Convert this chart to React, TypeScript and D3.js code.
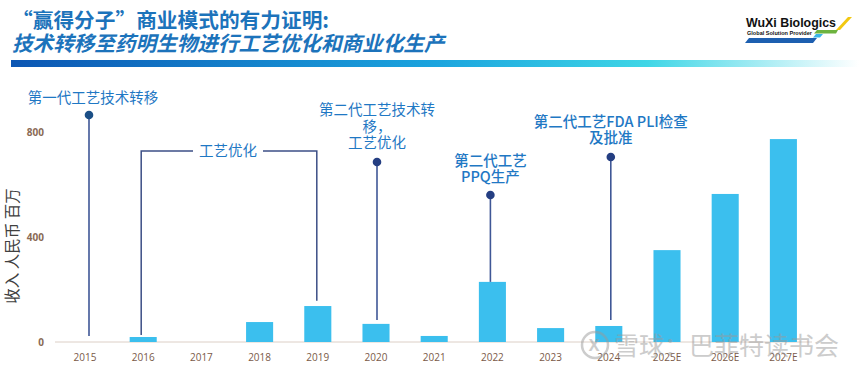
import React, { useEffect, useRef } from "react";
import * as d3 from "d3";

// revenue, RMB millions
const categories = ["2015", "2016", "2017", "2018", "2019", "2020", "2021", "2022", "2023", "2024", "2025E", "2026E", "2027E"];
const revenue = [0, 19, 0, 76, 137, 69, 23, 229, 53, 61, 350, 564, 773];
const yTicks = [0, 400, 800];

// milestone pins: category, dot value, line bottom value, label lines
const pinCategories = ["2015", "2020", "2022", "2024"];
const pinDotValues = [865, 686, 560, 705];
const pinBottomValues = [23, 84, 229, 84];
const pinLabels = [
  ["第一代工艺技术转移"],
  ["第二代工艺技术转", "移，", "工艺优化"],
  ["第二代工艺", "PPQ生产"],
  ["第二代工艺FDA PLI检查", "及批准"],
];

// bracket "工艺优化" from 2016 to 2019
const bracketCategories = ["2016", "2019"];
const bracketTopValue = 728;
const bracketBottomValues = [27, 157];
const bracketLabel = "工艺优化";

const W = 859;
const H = 371;

const App: React.FC = () => {
  const svgRef = useRef<SVGSVGElement>(null);

  useEffect(() => {
    if (!svgRef.current) return;
    const svg = d3.select(svgRef.current);
    svg.selectAll("*").remove();

    const cjk = "'Noto Sans CJK SC', 'Noto Sans', sans-serif";
    const latin = "'Open Sans', 'Noto Sans', sans-serif";
    const textBlue = "#1f78c4";

    // header
    const defs = svg.append("defs");
    const grad = defs.append("linearGradient").attr("id", "hdr").attr("x1", "0").attr("x2", "1");
    grad.append("stop").attr("offset", "0").attr("stop-color", "#0c56b3");
    grad.append("stop").attr("offset", "0.5").attr("stop-color", "#1ba4de");
    grad.append("stop").attr("offset", "0.75").attr("stop-color", "#3fd6e6");
    grad.append("stop").attr("offset", "1").attr("stop-color", "#ffffff");

    svg.append("rect").attr("x", 11).attr("y", 60).attr("width", W - 11).attr("height", 7).attr("fill", "url(#hdr)");

    svg.append("text")
      .attr("x", 12).attr("y", 28)
      .attr("font-family", cjk).attr("font-size", 20.7).attr("font-weight", 700)
      .attr("fill", "#1c73bb")
      .text("“赢得分子”商业模式的有力证明:");
    svg.append("text")
      .attr("x", 12).attr("y", 51)
      .attr("font-family", cjk).attr("font-size", 20.6).attr("font-weight", 700)
      .attr("font-style", "italic")
      .attr("fill", "#1c73bb")
      .text("技术转移至药明生物进行工艺优化和商业化生产");

    // logo
    const logo = svg.append("g");
    logo.append("text").attr("x", 746).attr("y", 27)
      .attr("font-family", "'Liberation Sans', Arial, sans-serif").attr("font-size", 12.8).attr("font-weight", 700)
      .attr("textLength", 90).attr("lengthAdjust", "spacingAndGlyphs")
      .attr("fill", "#111").text("WuXi Biologics");
    logo.append("text").attr("x", 747).attr("y", 35)
      .attr("font-family", "'Liberation Sans', Arial, sans-serif").attr("font-size", 5.5).attr("font-weight", 700)
      .attr("textLength", 65).attr("lengthAdjust", "spacingAndGlyphs")
      .attr("fill", "#111").text("Global Solution Provider");
    logo.append("polygon").attr("points", "836,30 848,17 852,17 840,30").attr("fill", "#f2c811");
    logo.append("polygon").attr("points", "814,33.5 836,33.5 838,30 817,30").attr("fill", "#6db33f");
    logo.append("polygon").attr("points", "813,37.5 820,37.5 823,34 816,34").attr("fill", "#3bb6e8");
    logo.append("polygon").attr("points", "745,43 813,43 817,38 749,38").attr("fill", "#1d5fb0");

    // scales
    const x = d3.scaleBand<string>()
      .domain(categories)
      .range([55.9, 55.9 + 58.2 * categories.length])
      .paddingInner(0.535)
      .paddingOuter(0.2675);
    const y = d3.scaleLinear().domain([0, 800]).range([342, 132]);
    const cx = (c: string) => (x(c) as number) + x.bandwidth() / 2;

    // baseline
    svg.append("line")
      .attr("x1", 55).attr("x2", 812).attr("y1", y(0)).attr("y2", y(0))
      .attr("stroke", "#dccfc6").attr("stroke-width", 1);

    // y ticks
    svg.append("g").selectAll("text").data(yTicks).join("text")
      .attr("x", 44).attr("y", d => y(d)).attr("dy", "0.35em")
      .attr("text-anchor", "end")
      .attr("font-family", latin).attr("font-size", 10).attr("font-weight", 700)
      .attr("fill", "#8a6a55")
      .text(d => d);

    // y title
    svg.append("text")
      .attr("transform", `translate(13,${246}) rotate(-90)`)
      .attr("text-anchor", "middle")
      .attr("dy", "0.35em")
      .attr("font-family", cjk).attr("font-size", 15.5)
      .attr("fill", "#404040")
      .attr("xml:space", "preserve")
      .text("收入 人民币 百万");

    // x labels
    svg.append("g").selectAll("text").data(categories).join("text")
      .attr("x", d => cx(d)).attr("y", 357).attr("dy", "0.35em")
      .attr("text-anchor", "middle")
      .attr("font-family", latin).attr("font-size", 10)
      .attr("fill", "#7a5a48")
      .text(d => d);

    // bars
    svg.append("g").selectAll("rect").data(categories).join("rect")
      .attr("x", d => x(d) as number)
      .attr("y", (d, i) => y(revenue[i]))
      .attr("width", x.bandwidth())
      .attr("height", (d, i) => y(0) - y(revenue[i]))
      .attr("fill", "#3bbfee");

    // bracket
    const bx0 = cx(bracketCategories[0]) - 2;
    const bx1 = cx(bracketCategories[1]) - 1;
    const by = y(bracketTopValue);
    const bLabelX = 228;
    const bLineColor = "#3c4f86";
    svg.append("path")
      .attr("d", `M${bx0},${y(bracketBottomValues[0])} V${by} H${bLabelX - 35}`)
      .attr("fill", "none").attr("stroke", bLineColor).attr("stroke-width", 1.5);
    svg.append("path")
      .attr("d", `M${bLabelX + 35},${by} H${bx1} V${y(bracketBottomValues[1])}`)
      .attr("fill", "none").attr("stroke", bLineColor).attr("stroke-width", 1.5);
    svg.append("text")
      .attr("x", bLabelX).attr("y", by).attr("dy", "0.35em")
      .attr("text-anchor", "middle")
      .attr("font-family", cjk).attr("font-size", 14.5)
      .attr("fill", textBlue)
      .text(bracketLabel);

    // pins
    const pinDx = [4, 1, -2, 2];
    const pinLabelDy = [-17, -19, -18, -19];
    pinCategories.forEach((c, i) => {
      const px = cx(c) + pinDx[i];
      const dotY = y(pinDotValues[i]);
      svg.append("line")
        .attr("x1", px).attr("x2", px)
        .attr("y1", dotY).attr("y2", y(pinBottomValues[i]))
        .attr("stroke", "#3f5796").attr("stroke-width", 1.6);
      svg.append("circle")
        .attr("cx", px).attr("cy", dotY).attr("r", 4.3)
        .attr("fill", i === 0 ? "#1b4f86" : "#243e82");
      const lines = pinLabels[i];
      const lh = 16.5;
      const lastY = dotY + pinLabelDy[i];
      const bold = i >= 2;
      svg.append("g").selectAll("text").data(lines).join("text")
        .attr("x", px + (i === 0 ? 4 : 0))
        .attr("y", (d, k) => lastY - (lines.length - 1 - k) * lh)
        .attr("dy", "0.35em")
        .attr("text-anchor", "middle")
        .attr("font-family", cjk).attr("font-size", 14.5)
        .attr("font-weight", bold ? 500 : 400)
        .attr("fill", textBlue)
        .text(d => d);
    });

    // watermark
    const wm = svg.append("g").attr("opacity", 0.5);
    wm.append("circle").attr("cx", 595).attr("cy", 345).attr("r", 13)
      .attr("fill", "none").attr("stroke", "#9a9a9a").attr("stroke-width", 2.5);
    wm.append("text").attr("x", 594).attr("y", 345).attr("dy", "0.35em")
      .attr("text-anchor", "middle")
      .attr("font-family", latin).attr("font-size", 16).attr("font-weight", 700)
      .attr("fill", "#9a9a9a").text("X");
    wm.append("text").attr("x", 614).attr("y", 346).attr("dy", "0.35em")
      .attr("font-family", cjk).attr("font-size", 25)
      .attr("fill", "#9a9a9a").text("雪球：巴菲特读书会");
  }, []);

  return (
    <svg
      ref={svgRef}
      width={W}
      height={H}
      style={{ position: "absolute", left: 0, top: 0, display: "block", background: "#fff" }}
    />
  );
};

export default App;
